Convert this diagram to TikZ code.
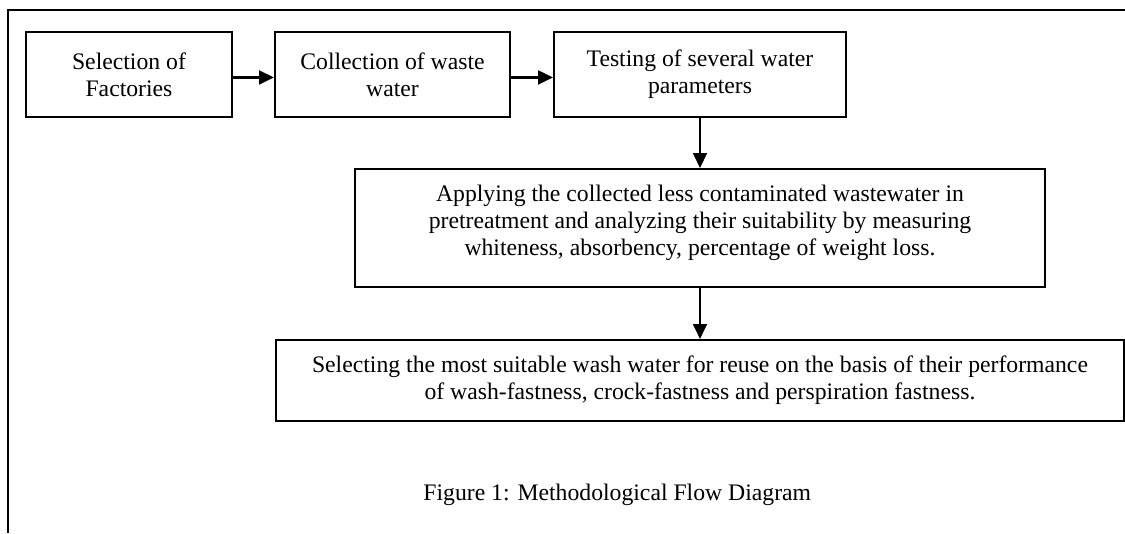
\documentclass[tikz,border=0pt]{standalone}
\usepackage{fontspec}
\setmainfont{Liberation Serif}
\usetikzlibrary{arrows.meta}
\begin{document}
\begin{tikzpicture}[x=0.50633pt,y=-0.50633pt,
  every node/.style={font=\fontsize{12}{13.7}\selectfont},
  stepbox/.style={draw,line width=1.1pt,align=center,inner sep=0pt,minimum height=43pt},
  steptext/.style={align=center,inner sep=0pt},
  flow/.style={line width=1.2pt,-{Triangle[length=7.5pt,width=7pt]}},
  frame/.style={line width=1.1pt}]
\useasboundingbox (0,0) rectangle (1125,533);
\draw[frame] (1125,10) -- (8,10) -- (8,533);
\node[stepbox,minimum width=104.3pt] (b1) at (129,74.5) {Selection of\\Factories};
\node[stepbox,minimum width=119pt] (b2) at (392.5,74.5) {Collection of waste\\water};
\node[stepbox,minimum width=147.8pt] (b3) at (700,74.5) {Testing of several water\\parameters};
\node[stepbox,minimum width=349.4pt,minimum height=59.7pt] (b4) at (700,228) {};
\node[steptext] (t4) at ([yshift=2.5pt]b4.center) {Applying the collected less contaminated wastewater in\\pretreatment and analyzing their suitability by measuring\\whiteness, absorbency, percentage of weight loss.};
\node[stepbox,minimum width=429.4pt,minimum height=41pt] (b5) at (700,380.5) {Selecting the most suitable wash water for reuse on the basis of their performance\\of wash-fastness, crock-fastness and perspiration fastness.};
\draw[flow] ([yshift=-1.5pt]b1.east) -- ([yshift=-1.5pt]b2.west);
\draw[flow] ([yshift=-1.5pt]b2.east) -- ([yshift=-1.5pt]b3.west);
\draw[flow] (b3.south) -- (b4.north);
\draw[flow] (b4.south) -- (b5.north);
\node[anchor=base west,inner sep=0pt] (cap) at (423,500) {Figure 1: Methodological Flow Diagram};
\end{tikzpicture}
\end{document}
